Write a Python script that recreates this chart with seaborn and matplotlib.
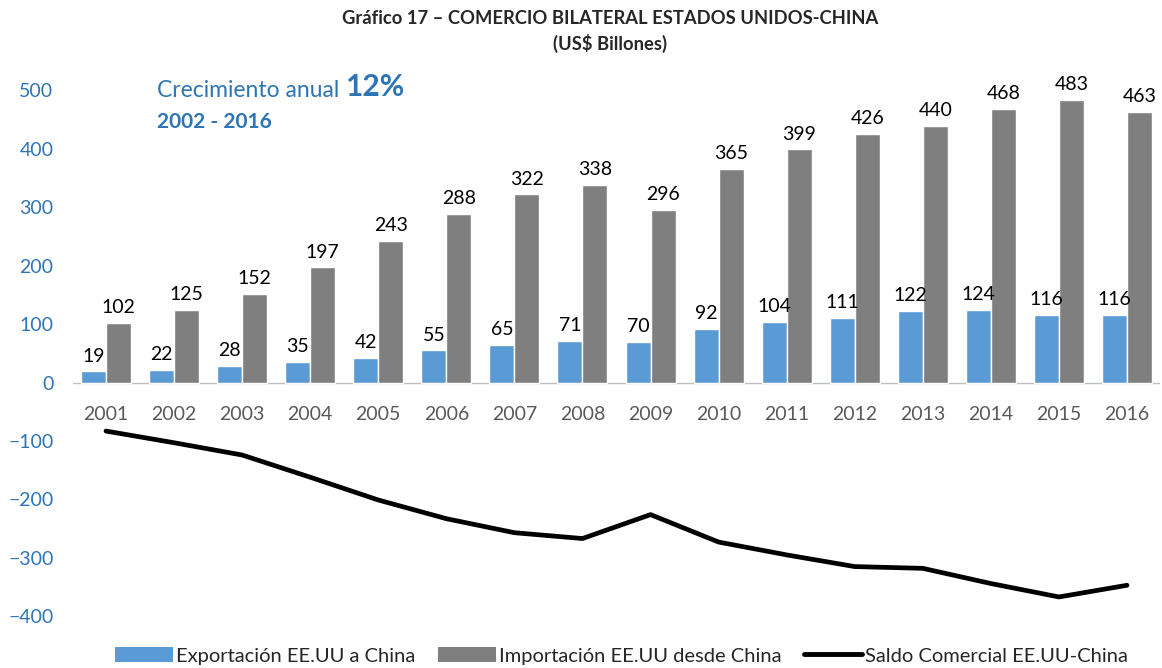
import numpy as np
import pandas as pd
import matplotlib
matplotlib.use("Agg")
import matplotlib.pyplot as plt
import seaborn as sns
from matplotlib.patches import Patch
from matplotlib.lines import Line2D

years = ["2001", "2002", "2003", "2004", "2005", "2006", "2007", "2008",
         "2009", "2010", "2011", "2012", "2013", "2014", "2015", "2016"]
exports = [19, 22, 28, 35, 42, 55, 65, 71, 70, 92, 104, 111, 122, 124, 116, 116]
imports = [102, 125, 152, 197, 243, 288, 322, 338, 296, 365, 399, 426, 440, 468, 483, 463]
balance = [-83, -103, -124, -162, -201, -233, -257, -267, -226, -273, -295, -315, -318, -344, -367, -347]

s_exp = "Exportación EE.UU a China"
s_imp = "Importación EE.UU desde China"
s_bal = "Saldo Comercial EE.UU-China"

blue = "#5B9BD5"
gray = "#7F7F7F"
accent = "#2E75B6"

sns.set_theme(style="white")
plt.rcParams["font.family"] = ["Lato", "DejaVu Sans"]

df = pd.DataFrame({
    "year": years * 2,
    "value": exports + imports,
    "serie": [s_exp] * len(years) + [s_imp] * len(years),
})

fig = plt.figure(figsize=(11.62, 6.68), dpi=100)
ax = fig.add_axes([0.0628, 0.06, 0.9355, 0.85])

sns.barplot(data=df, x="year", y="value", hue="serie", order=years,
            hue_order=[s_exp, s_imp], palette=[blue, gray], width=0.735,
            saturation=1, ax=ax, legend=False)
for cont in ax.containers:
    ax.bar_label(cont, fmt="%d", padding=5, fontsize=14, color="#000000")

pos = np.arange(len(years))
sns.lineplot(x=pos, y=balance, color="black", lw=3.4, ax=ax, legend=False)

ax.axhline(0, color="#BFBFBF", lw=1, zorder=0)
ax.set_ylim(-420, 552)
ax.set_xlim(-0.485, 15.485)
ax.set_yticks([-400, -300, -200, -100, 0, 100, 200, 300, 400, 500])
ax.tick_params(axis="y", labelsize=14, labelcolor=accent, length=0, pad=14)
ax.set_xticks([])
ax.set_xlabel("")
ax.set_ylabel("")
for s in ax.spines.values():
    s.set_visible(False)

for i, yr in enumerate(years):
    ax.text(i, -54, yr, ha="center", va="center", fontsize=14, color="#595959")

fig.text(0.525, 0.972, "Gráfico 17 – COMERCIO BILATERAL ESTADOS UNIDOS-CHINA",
         ha="center", va="center", fontsize=13.2, fontweight="bold")
fig.text(0.525, 0.935, "(US$ Billones)", ha="center", va="center",
         fontsize=13.2, fontweight="bold")

t1 = fig.text(0.135, 0.855, "Crecimiento anual ", ha="left", va="baseline",
              fontsize=16.5, color=accent)
ax.annotate("12%", xy=(1, 0), xycoords=t1, ha="left", va="bottom",
            fontsize=21.5, fontweight="bold", color=accent)
fig.text(0.135, 0.808, "2002 - 2016", ha="left", va="baseline",
         fontsize=15, fontweight="bold", color=accent)

handles = [Patch(facecolor=blue, edgecolor="none"),
           Patch(facecolor=gray, edgecolor="none"),
           Line2D([0], [0], color="black", lw=3.5)]
fig.legend(handles, [s_exp, s_imp, s_bal], loc="center", bbox_to_anchor=(0.535, 0.018),
           ncol=3, frameon=False, fontsize=14.5, handlelength=2.9, handleheight=0.7,
           columnspacing=1.1, handletextpad=0.15)

fig.savefig("out.png", dpi=100)
